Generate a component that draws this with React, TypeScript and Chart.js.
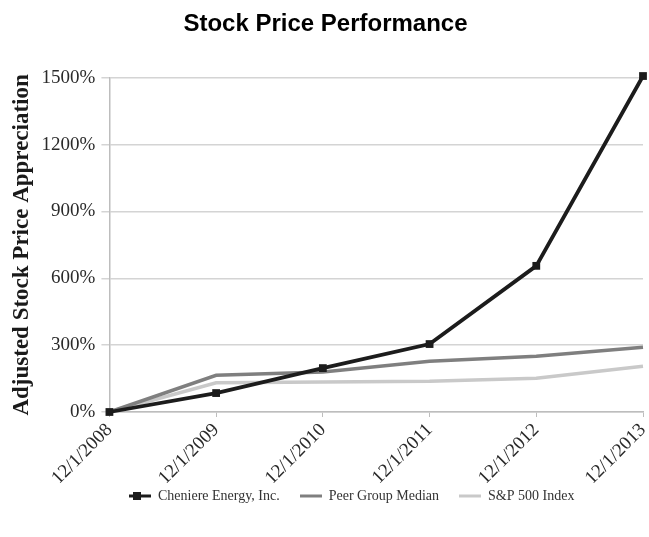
import React, { useEffect, useRef } from "react";
import { Chart, registerables } from "chart.js";

Chart.register(...registerables);

const categories = ["12/1/2008", "12/1/2009", "12/1/2010", "12/1/2011", "12/1/2012", "12/1/2013"];
const cheniere = [0, 85, 197, 305, 656, 1508];
const peerGroup = [0, 165, 180, 228, 250, 291];
const sp500 = [0, 131, 135, 138, 152, 205];
const yTicks = [0, 300, 600, 900, 1200, 1500];

const SERIF = "'Liberation Serif', 'Times New Roman', serif";

function legendIcon(color: string, withSquare: boolean): HTMLCanvasElement {
  const c = document.createElement("canvas");
  c.width = 22;
  c.height = 12;
  const ctx = c.getContext("2d")!;
  ctx.strokeStyle = color;
  ctx.lineWidth = 3;
  ctx.beginPath();
  ctx.moveTo(0, 6);
  ctx.lineTo(22, 6);
  ctx.stroke();
  if (withSquare) {
    ctx.fillStyle = color;
    ctx.fillRect(4, 2, 8, 8);
  }
  return c;
}

export default function App() {
  const ref = useRef<HTMLCanvasElement>(null);
  useEffect(() => {
    document.body.style.margin = "0";
    const icons = [
      legendIcon("#1c1c1c", true),
      legendIcon("#7f7f7f", false),
      legendIcon("#c9c9c9", false),
    ];
    const pads = ["\u00a0".repeat(4), "\u00a0".repeat(4), "\u00a0".repeat(14)];
    const chart = new Chart(ref.current!, {
      type: "line",
      data: {
        labels: categories,
        datasets: [
          {
            label: "Cheniere Energy, Inc.",
            data: cheniere,
            borderColor: "#1c1c1c",
            backgroundColor: "#1c1c1c",
            borderWidth: 3.8,
            pointStyle: "rect",
            pointRadius: 5.5,
            pointBackgroundColor: "#1c1c1c",
            pointBorderWidth: 0,
            tension: 0,
            order: 0,
          },
          {
            label: "Peer Group Median",
            data: peerGroup,
            borderColor: "#7f7f7f",
            backgroundColor: "#7f7f7f",
            borderWidth: 3.5,
            pointRadius: 0,
            tension: 0,
            order: 1,
          },
          {
            label: "S&P 500 Index",
            data: sp500,
            borderColor: "#c9c9c9",
            backgroundColor: "#c9c9c9",
            borderWidth: 3.5,
            pointRadius: 0,
            tension: 0,
            order: 2,
          },
        ],
      },
      options: {
        animation: false,
        responsive: false,
        clip: false,
        layout: { padding: { left: 8, right: 6, top: 0, bottom: 24 } },
        plugins: {
          title: {
            display: true,
            text: "Stock Price Performance",
            color: "#000",
            font: { family: "'Liberation Sans', Arial, sans-serif", size: 24, weight: "bold" },
            padding: { top: 10, bottom: 39 },
          },
          legend: {
            position: "bottom",
            fullSize: false,
            labels: {
              usePointStyle: true,
              pointStyleWidth: 22,
              color: "#333",
              font: { family: SERIF, size: 14 },
              padding: 6,
              generateLabels: (ch: any) =>
                ch.data.datasets.map((d: any, i: number) => ({
                  text: d.label + pads[i],
                  fillStyle: d.borderColor,
                  strokeStyle: d.borderColor,
                  pointStyle: icons[i],
                  lineWidth: 0,
                  datasetIndex: i,
                  hidden: false,
                  fontColor: "#333",
                })),
            },
          },
          tooltip: { enabled: false },
        },
        scales: {
          x: {
            offset: false,
            afterFit: (axis: any) => {
              axis.height = 71;
              axis.paddingLeft = 0;
              axis.paddingRight = 0;
            },
            grid: { display: true, drawOnChartArea: false, drawTicks: true, tickLength: 5, color: "#bdbdbd" },
            border: { display: true, color: "#bdbdbd", width: 1.5 },
            ticks: {
              color: "#2a2a2a",
              font: { family: SERIF, size: 19 },
              minRotation: 45,
              maxRotation: 45,
              padding: 2,
            },
          },
          y: {
            min: 0,
            max: 1500,
            afterBuildTicks: (axis: any) => {
              axis.ticks = yTicks.map((v) => ({ value: v }));
            },
            grid: { color: "#d4d4d4", lineWidth: 1.5, drawTicks: true, tickLength: 8 },
            border: { display: true, color: "#bdbdbd", width: 1.5 },
            ticks: {
              color: "#2a2a2a",
              font: { family: SERIF, size: 19 },
              padding: 6,
              callback: (v: any) => v + "%",
            },
            title: {
              display: true,
              text: "Adjusted Stock Price Appreciation",
              color: "#1a1a1a",
              font: { family: SERIF, size: 23, weight: "bold" },
              padding: { top: 0, bottom: 0 },
            },
          },
        },
      },
    });
    return () => chart.destroy();
  }, []);
  return <canvas ref={ref} width={649} height={537} style={{ display: "block" }} />;
}
